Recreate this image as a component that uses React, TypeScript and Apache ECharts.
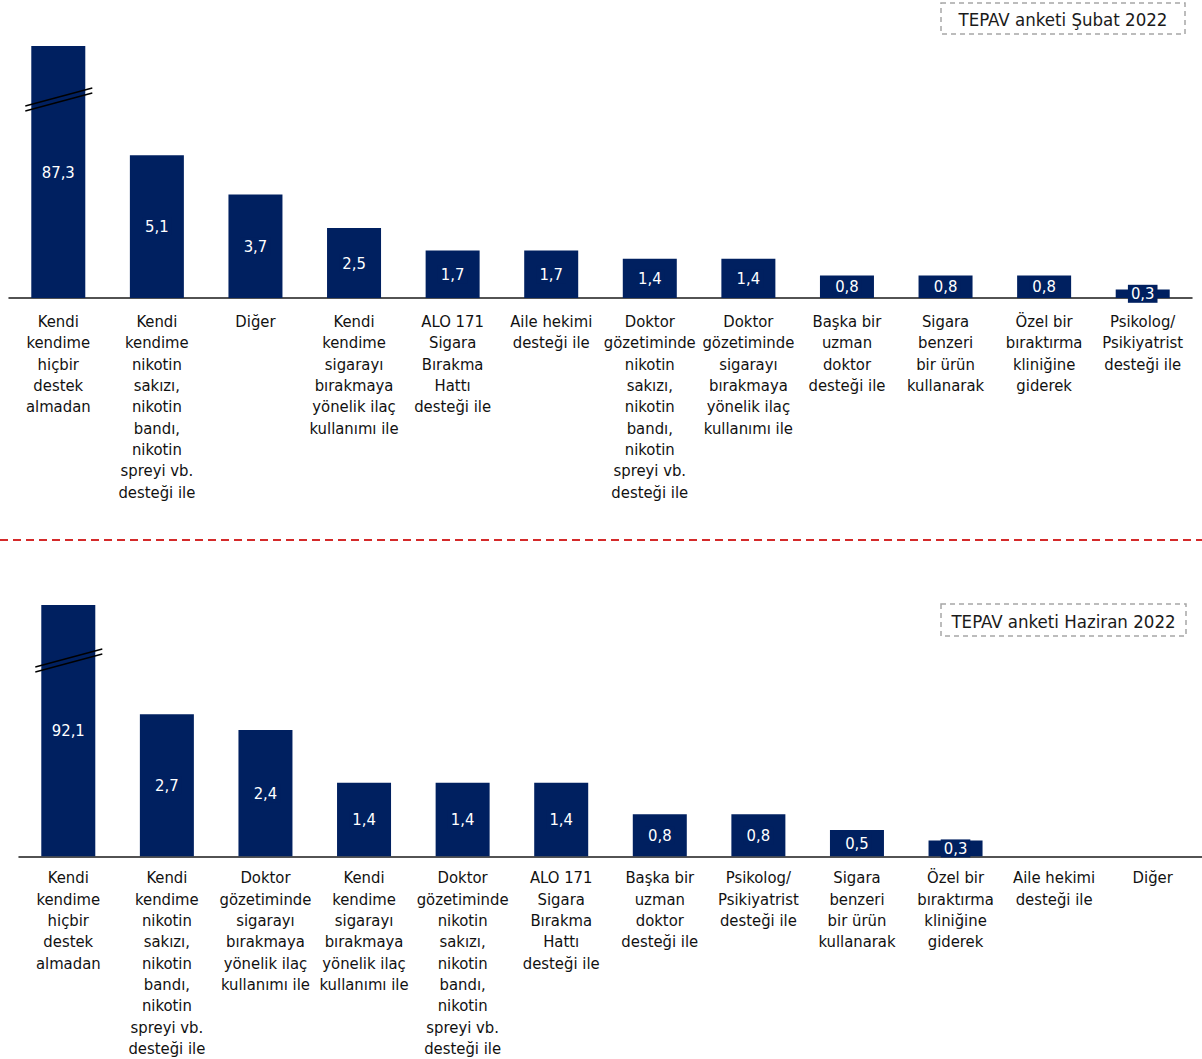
import React, { useEffect, useRef } from "react";
import * as echarts from "echarts";

const topCategories = [
  "Kendi\nkendime\nhiçbir\ndestek\nalmadan",
  "Kendi\nkendime\nnikotin\nsakızı,\nnikotin\nbandı,\nnikotin\nspreyi vb.\ndesteği ile",
  "Diğer",
  "Kendi\nkendime\nsigarayı\nbırakmaya\nyönelik ilaç\nkullanımı ile",
  "ALO 171\nSigara\nBırakma\nHattı\ndesteği ile",
  "Aile hekimi\ndesteği ile",
  "Doktor\ngözetiminde\nnikotin\nsakızı,\nnikotin\nbandı,\nnikotin\nspreyi vb.\ndesteği ile",
  "Doktor\ngözetiminde\nsigarayı\nbırakmaya\nyönelik ilaç\nkullanımı ile",
  "Başka bir\nuzman\ndoktor\ndesteği ile",
  "Sigara\nbenzeri\nbir ürün\nkullanarak",
  "Özel bir\nbıraktırma\nkliniğine\ngiderek",
  "Psikolog/\nPsikiyatrist\ndesteği ile",
];
const topValues = [87.3, 5.1, 3.7, 2.5, 1.7, 1.7, 1.4, 1.4, 0.8, 0.8, 0.8, 0.3];

const bottomCategories = [
  "Kendi\nkendime\nhiçbir\ndestek\nalmadan",
  "Kendi\nkendime\nnikotin\nsakızı,\nnikotin\nbandı,\nnikotin\nspreyi vb.\ndesteği ile",
  "Doktor\ngözetiminde\nsigarayı\nbırakmaya\nyönelik ilaç\nkullanımı ile",
  "Kendi\nkendime\nsigarayı\nbırakmaya\nyönelik ilaç\nkullanımı ile",
  "Doktor\ngözetiminde\nnikotin\nsakızı,\nnikotin\nbandı,\nnikotin\nspreyi vb.\ndesteği ile",
  "ALO 171\nSigara\nBırakma\nHattı\ndesteği ile",
  "Başka bir\nuzman\ndoktor\ndesteği ile",
  "Psikolog/\nPsikiyatrist\ndesteği ile",
  "Sigara\nbenzeri\nbir ürün\nkullanarak",
  "Özel bir\nbıraktırma\nkliniğine\ngiderek",
  "Aile hekimi\ndesteği ile",
  "Diğer",
];
const bottomValues = [92.1, 2.7, 2.4, 1.4, 1.4, 1.4, 0.8, 0.8, 0.5, 0.3, 0, 0];

const topTitle = "TEPAV anketi Şubat 2022";
const bottomTitle = "TEPAV anketi Haziran 2022";

const NAVY = "#002060";
const FONT = 'Tahoma, "DejaVu Sans Condensed", "DejaVu Sans", sans-serif';

export default function App() {
  const ref = useRef<HTMLDivElement>(null);
  useEffect(() => {
    document.body.style.margin = "0";
    const chart = echarts.init(ref.current!, undefined, { renderer: "svg" });

    const labelCfg = {
      show: true,
      position: "inside" as const,
      color: "#ffffff",
      fontSize: 16.5,
      fontFamily: FONT,
      backgroundColor: NAVY,
      padding: [1, 3, 0, 3],
      formatter: (p: any) => String(Number(p.value).toFixed(1)).replace(".", ","),
    };
    const toItems = (vals: number[]) =>
      vals.map((v) => ({ value: v, label: { show: v !== 0 } }));

    const xAxisBase = {
      type: "category" as const,
      axisTick: { show: false },
      axisLine: { lineStyle: { color: "#1a1a1a", width: 1.5 } },
      axisLabel: {
        interval: 0,
        color: "#111",
        fontSize: 16.5,
        fontFamily: FONT,
        lineHeight: 21.3,
        margin: 12,
        align: "center" as const,
        verticalAlign: "top" as const,
      },
    };
    const yAxisBase = {
      type: "value" as const,
      min: 0,
      axisLine: { show: false },
      axisTick: { show: false },
      axisLabel: { show: false },
      splitLine: { show: false },
    };

    chart.setOption({
      animation: false,
      grid: [
        { left: 9, width: 1183, top: 46, height: 252 },
        { left: 19, width: 1184, top: 605, height: 252 },
      ],
      xAxis: [
        { ...xAxisBase, gridIndex: 0, data: topCategories, axisLabel: { ...xAxisBase.axisLabel, margin: 13 } },
        { ...xAxisBase, gridIndex: 1, data: bottomCategories, axisLabel: { ...xAxisBase.axisLabel, margin: 11 } },
      ],
      yAxis: [
        { ...yAxisBase, gridIndex: 0, max: 9 },
        { ...yAxisBase, gridIndex: 1, max: 4.78 },
      ],
      series: [
        {
          type: "bar",
          xAxisIndex: 0,
          yAxisIndex: 0,
          data: toItems(topValues),
          barWidth: 54,
          clip: true,
          itemStyle: { color: NAVY },
          label: labelCfg,
        },
        {
          type: "bar",
          xAxisIndex: 1,
          yAxisIndex: 1,
          data: toItems(bottomValues),
          barWidth: 54,
          clip: true,
          itemStyle: { color: NAVY },
          label: labelCfg,
        },
      ],
    });

    const p0 = chart.convertToPixel({ xAxisIndex: 0, yAxisIndex: 0 }, [0, 0]) as number[];
    const p1 = chart.convertToPixel({ xAxisIndex: 1, yAxisIndex: 1 }, [0, 0]) as number[];

    const breakMarks = (cx: number, yMid: number) => {
      const x1 = cx - 33;
      const x2 = cx + 34;
      return [0, 5].map((off) => ({
        type: "line",
        shape: { x1, y1: yMid + 9 + off, x2, y2: yMid - 9 + off },
        style: { stroke: "#000", lineWidth: 1.3 },
        z: 100,
      }));
    };

    const legendBox = (x: number, y: number, w: number, h: number, text: string) => ({
      type: "group",
      x,
      y,
      z: 100,
      children: [
        {
          type: "rect",
          shape: { x: 0, y: 0, width: w, height: h },
          style: { fill: "#fff", stroke: "#a6a6a6", lineWidth: 1.5, lineDash: [5, 4] },
        },
        {
          type: "text",
          x: w / 2,
          y: h / 2 + 1,
          style: {
            text,
            fill: "#1a1a1a",
            fontSize: 18.5,
            fontFamily: FONT,
            align: "center",
            verticalAlign: "middle",
          },
        },
      ],
    });

    chart.setOption({
      graphic: [
        ...breakMarks(p0[0], 97),
        ...breakMarks(p1[0], 658),
        {
          type: "line",
          shape: { x1: 0, y1: 540, x2: 1202, y2: 540 },
          style: { stroke: "#d42a2a", lineWidth: 2, lineDash: [8, 5] },
        },
        legendBox(941, 3, 244, 31, topTitle),
        legendBox(941, 604, 245, 32, bottomTitle),
      ],
    });

    return () => chart.dispose();
  }, []);
  return <div ref={ref} style={{ width: 1202, height: 1059 }} />;
}
